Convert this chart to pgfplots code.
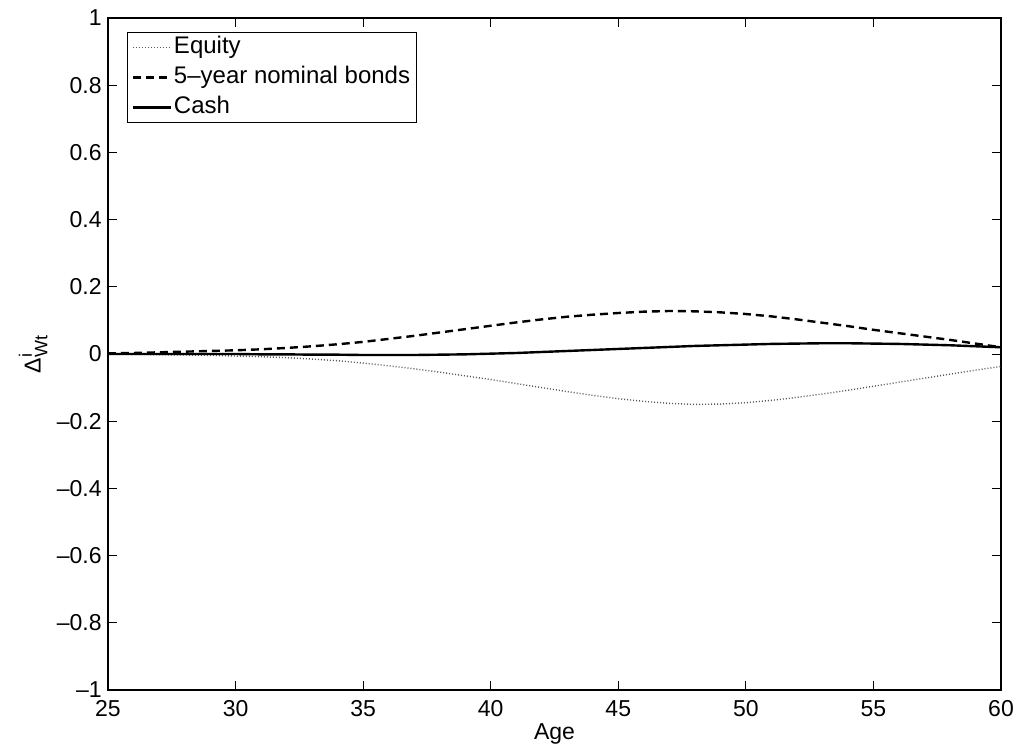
\documentclass[border=0pt]{standalone}
\usepackage{pgfplots}
\pgfplotsset{compat=1.18}
\usepackage{fontspec}
\setmainfont{Liberation Sans}
\begin{document}
\fontsize{11.5}{13.8}\selectfont
\begin{tikzpicture}
\begin{axis}[
  scale only axis,
  width=446.5pt, height=336pt,
  xmin=25, xmax=60, ymin=-1, ymax=1,
  xtick={25,30,35,40,45,50,55,60},
  ytick={-1,-0.8,-0.6,-0.4,-0.2,0,0.2,0.4,0.6,0.8,1},
  tick pos=both, tick align=inside,
  major tick length=4.5pt,
  every tick/.style={black, line width=0.5pt},
  axis line style={line width=0.9pt},
  /pgf/number format/assume math mode=true,
  xticklabel style={inner sep=0pt, anchor=north, yshift=-5pt},
  yticklabel style={inner sep=0pt, anchor=east, xshift=-3pt},
  yticklabel={\pgfmathtruncatemacro\isneg{\tick<-0.01}\ifnum\isneg=1 \textendash\fi\pgfmathparse{abs(\tick)}\pgfmathprintnumber[fixed,precision=1]{\pgfmathresult}},
  xlabel={Age},
  every axis x label/.style={at={([yshift=-24.5pt]rel axis cs:0.5,0)}, anchor=base, inner sep=0pt},
  ylabel={Δ$^{\mbox{\fontsize{9}{9}\selectfont i}}_{\mbox{\fontsize{9}{9}\selectfont Wt}}$},
  every axis y label/.style={at={([xshift=-30pt]rel axis cs:0,0.5)}, rotate=90, anchor=south, inner sep=0pt},
  legend style={at={(rel axis cs:0,1)}, anchor=north west, xshift=9.5pt, yshift=-7pt,
    draw=black, line width=0.6pt, fill=white, inner xsep=2pt, inner ysep=1.5pt,
    font=\fontsize{12}{14}\selectfont,
    nodes={inner ysep=0pt, inner xsep=1pt, text height=9pt, text depth=3pt, anchor=west},
    row sep=3pt, cells={anchor=west}},
  legend image code/.code={\draw[#1] (0pt,0pt) -- (19pt,0pt);},
  legend cell align=left,
]
\addplot[black!65, line width=0.7pt, dash pattern=on 0.5pt off 1pt] coordinates {
(25,0.000) (26,-0.001) (27,-0.002) (28,-0.003) (29,-0.004) (30,-0.006)
(31,-0.008) (32,-0.011) (33,-0.015) (34,-0.020) (35,-0.027) (36,-0.035)
(37,-0.044) (38,-0.054) (39,-0.065) (40,-0.076) (41,-0.088) (42,-0.100)
(43,-0.112) (44,-0.123) (45,-0.133) (46,-0.141) (47,-0.147) (48,-0.150)
(49,-0.149) (50,-0.145) (51,-0.138) (52,-0.129) (53,-0.119) (54,-0.108)
(55,-0.096) (56,-0.084) (57,-0.072) (58,-0.060) (59,-0.048) (60,-0.037)
};
\addlegendentry{Equity}
\addplot[black, line width=1.2pt, dash pattern=on 4pt off 2.5pt] coordinates {
(25,0.002) (26,0.003) (27,0.005) (28,0.007) (29,0.009) (30,0.011)
(31,0.014) (32,0.018) (33,0.023) (34,0.029) (35,0.036) (36,0.045)
(37,0.054) (38,0.064) (39,0.074) (40,0.084) (41,0.094) (42,0.103)
(43,0.111) (44,0.117) (45,0.122) (46,0.126) (47,0.128) (48,0.127)
(49,0.124) (50,0.119) (51,0.112) (52,0.103) (53,0.093) (54,0.083)
(55,0.072) (56,0.062) (57,0.052) (58,0.042) (59,0.031) (60,0.020)
};
\addlegendentry{5\textendash year nominal bonds}
\addplot[black, line width=1.2pt] coordinates {
(25,0.000) (26,0.000) (27,0.000) (28,0.000) (29,0.000) (30,0.000)
(31,-0.001) (32,-0.001) (33,-0.002) (34,-0.002) (35,-0.003) (36,-0.003)
(37,-0.003) (38,-0.002) (39,-0.001) (40,0.001) (41,0.003) (42,0.006)
(43,0.009) (44,0.012) (45,0.015) (46,0.018) (47,0.021) (48,0.024)
(49,0.026) (50,0.028) (51,0.030) (52,0.031) (53,0.032) (54,0.032)
(55,0.031) (56,0.030) (57,0.028) (58,0.026) (59,0.023) (60,0.020)
};
\addlegendentry{Cash}
\end{axis}
\pgfresetboundingbox
\path ([shift={(-54pt,-28pt)}]current axis.south west) rectangle ([shift={(8.5pt,9pt)}]current axis.north east);
\end{tikzpicture}
\end{document}
